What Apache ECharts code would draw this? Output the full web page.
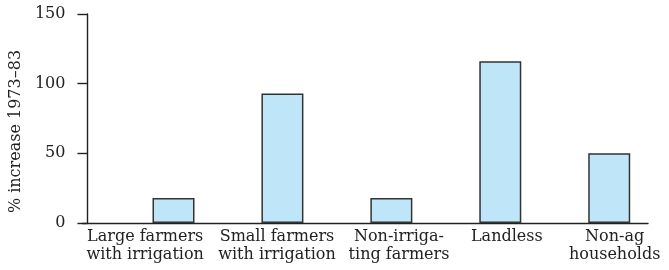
<!DOCTYPE html>
<html>
<head>
<meta charset="utf-8">
<script src="https://cdn.jsdelivr.net/npm/echarts@6/dist/echarts.min.js"></script>
<style>
  html, body { margin: 0; padding: 0; background: #fff; }
  #chart { width: 669px; height: 270px; }
</style>
</head>
<body>
<div id="chart"></div>
<script>
var categories = [
  "Large farmers\nwith irrigation",
  "Small farmers\nwith irrigation",
  "Non-irriga-\nting farmers",
  "Landless",
  "Non-ag\nhouseholds"
];
var increase = [18, 93, 18, 116, 50];
var yTicks = [0, 50, 100, 150];

var chartDom = document.getElementById("chart");
var chart = echarts.init(chartDom);

var font = "DejaVu Serif";
// label centres sit a little left of the bars in the original
var labelAt = [-0.26, 0.95, 2.07, 3.06, 4.05];

let option = {
  animation: false,
  textStyle: { fontFamily: font },
  grid: {
    top: 14,
    bottom: 47,
    left: 80,
    right: 21,
  },
  xAxis: {
    type: "value",
    min: -0.836,
    max: 4.356,
    splitLine: { show: false },
    axisLine: { show: true, onZero: false, lineStyle: { color: "#222", width: 1.4 } },
    axisTick: { show: false },
    axisLabel: {
      customValues: labelAt,
      formatter: function (v) {
        var k = 0;
        for (var j = 0; j < labelAt.length; j++) {
          if (Math.abs(labelAt[j] - v) < Math.abs(labelAt[k] - v)) k = j;
        }
        return categories[k];
      },
      fontFamily: font,
      fontSize: 16,
      lineHeight: 18,
      color: "#222",
      margin: 5,
      verticalAlign: "top",
    },
  },
  yAxis: {
    type: "value",
    min: 0,
    max: 150,
    interval: 50,
    offset: -5,
    name: "% increase 1973–83",
    nameLocation: "middle",
    nameGap: 56,
    nameTextStyle: { fontFamily: font, fontSize: 16, color: "#222", padding: [0, 26, 0, 0] },
    splitLine: { show: false },
    axisLine: { show: true, onZero: false, lineStyle: { color: "#222", width: 1.4 } },
    axisTick: { show: true, length: 10, lineStyle: { color: "#222", width: 1.4 } },
    axisLabel: {
      formatter: function (v) {
        return yTicks.indexOf(v) >= 0 ? String(v) : "";
      },
      fontFamily: font,
      fontSize: 16,
      color: "#222",
      margin: 22,
    },
  },
  series: [
    {
      type: "bar",
      barWidth: 42,
      data: increase.map(function (v, i) {
        return [i, v];
      }),
      itemStyle: {
        color: "#bfe6f8",
        borderColor: "#333",
        borderWidth: 1.5,
      },
    },
  ],
};

option && chart.setOption(option);
</script>
</body>
</html>
